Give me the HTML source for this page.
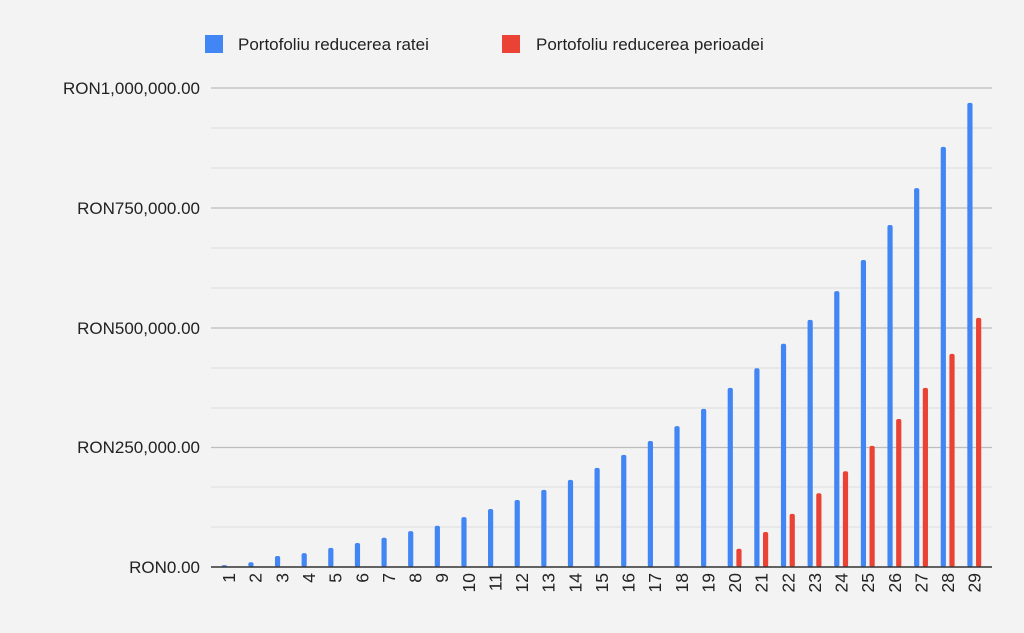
<!DOCTYPE html>
<html><head><meta charset="utf-8"><style>
html,body{margin:0;padding:0;background:#f3f3f3;}
svg{display:block;font-family:"Liberation Sans",Arial,sans-serif;}
</style></head><body>
<svg width="1024" height="633" viewBox="0 0 1024 633">
<rect width="1024" height="633" fill="#f3f3f3"/>
<g stroke="#dcdcdc" stroke-width="1">
<line x1="211" x2="992" y1="128" y2="128"/><line x1="211" x2="992" y1="168" y2="168"/>
<line x1="211" x2="992" y1="248" y2="248"/><line x1="211" x2="992" y1="288" y2="288"/>
<line x1="211" x2="992" y1="368" y2="368"/><line x1="211" x2="992" y1="408" y2="408"/>
<line x1="211" x2="992" y1="487" y2="487"/><line x1="211" x2="992" y1="527" y2="527"/>
</g>
<g stroke="#bdbdbd" stroke-width="1.2">
<line x1="211" x2="992" y1="88" y2="88"/><line x1="211" x2="992" y1="208" y2="208"/>
<line x1="211" x2="992" y1="328" y2="328"/><line x1="211" x2="992" y1="447.5" y2="447.5"/>
</g>
<g font-size="17" fill="#222" text-anchor="end">
<text x="200" y="94">RON1,000,000.00</text>
<text x="200" y="214">RON750,000.00</text>
<text x="200" y="334">RON500,000.00</text>
<text x="200" y="453">RON250,000.00</text>
<text x="200" y="573">RON0.00</text>
</g>
<rect x="205" y="35" width="18" height="18" fill="#4285f4"/>
<text x="238" y="50" font-size="17" fill="#222">Portofoliu reducerea ratei</text>
<rect x="502" y="35" width="18" height="18" fill="#ea4335"/>
<text x="536" y="50" font-size="17" fill="#222">Portofoliu reducerea perioadei</text>
<g id="bars"></g>
<line x1="211" x2="992" y1="567" y2="567" stroke="#333" stroke-width="1.5"/>
<g id="xl" font-size="17.5" fill="#222"></g>
<script>
var blue=[4,10,23,29,40,50,61,75,86,104,121,140,161,182,207,234,263,294,330,374,415,466,516,576,641,714,791,877,969];
var red={20:38,21:73,22:111,23:154,24:200,25:253,26:309,27:374,28:445,29:520};
var ns="http://www.w3.org/2000/svg",g=document.getElementById("bars"),xl=document.getElementById("xl");
function bar(cx,v,c){var h=479*v/1000,r=document.createElementNS(ns,"rect");
r.setAttribute("x",cx-2.6);r.setAttribute("width",5.2);r.setAttribute("y",567-h);r.setAttribute("height",h);
r.setAttribute("rx",2);r.setAttribute("fill",c);g.appendChild(r);}
for(var i=1;i<=29;i++){var cx=224.3+(i-1)*26.63;bar(cx,blue[i-1],"#4285f4");if(red[i])bar(cx+8.7,red[i],"#ea4335");
var t=document.createElementNS(ns,"text");var lx=cx+4.3+6.5,ly=573;
t.setAttribute("transform","translate("+lx+","+ly+") rotate(-90)");t.setAttribute("text-anchor","end");t.textContent=i;xl.appendChild(t);}
</script>
</svg>
</body></html>
